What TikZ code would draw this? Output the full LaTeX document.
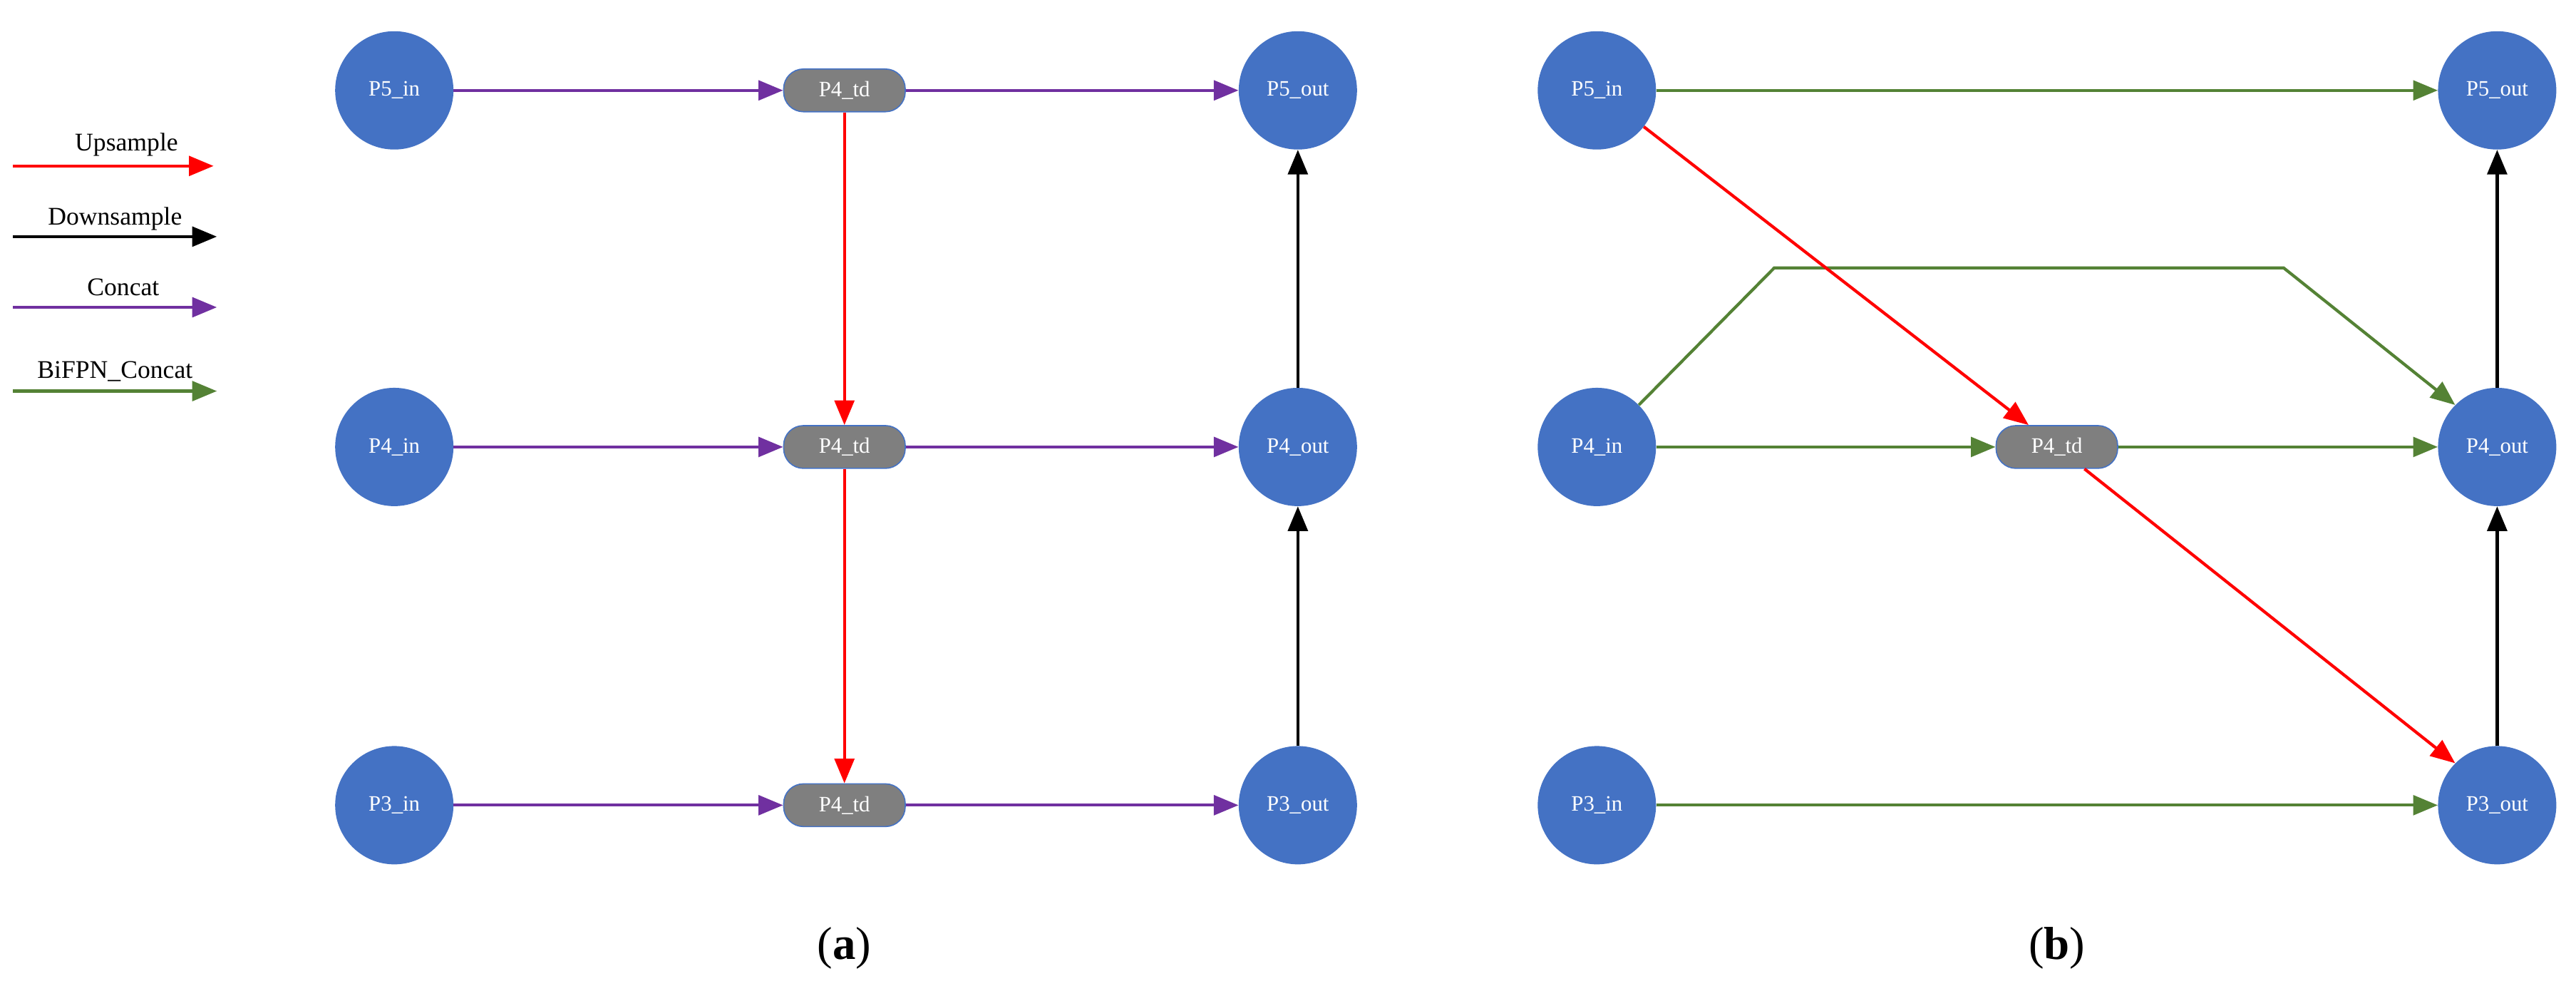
\documentclass[tikz,border=0pt]{standalone}
\usepackage{fontspec}
\setmainfont{Liberation Serif}
\usetikzlibrary{arrows.meta}
\definecolor{nodeblue}{HTML}{4472C4}
\definecolor{tdgray}{HTML}{7F7F7F}
\definecolor{cpurple}{HTML}{7030A0}
\definecolor{cgreen}{HTML}{548235}
\begin{document}
\begin{tikzpicture}[x=0.05cm,y=-0.05cm,
  io/.style={circle,fill=nodeblue,minimum size=3.6cm,inner sep=0pt,text=white,font=\fontsize{19}{22}\selectfont},
  td/.style={rounded corners=0.6cm,fill=tdgray,draw=nodeblue,line width=1pt,minimum width=3.7cm,minimum height=1.3cm,inner sep=0pt,text=white,font=\fontsize{19}{22}\selectfont},
  conn/.style={line width=2.6pt,-{Triangle[length=0.75cm,width=0.6cm]}},
  up/.style={conn,red},
  down/.style={conn,black},
  cat/.style={conn,cpurple},
  bif/.style={conn,cgreen},
  leg/.style={font=\fontsize{22}{26}\selectfont,inner sep=0pt},
  subcap/.style={font=\fontsize{40}{46}\selectfont}]
\useasboundingbox (0,0) rectangle (1568,606);
% legend
\coordinate (u1) at (8,101); \coordinate (u2) at (130,101);
\coordinate (d1) at (8,144); \coordinate (d2) at (132,144);
\coordinate (c1) at (8,187); \coordinate (c2) at (132,187);
\coordinate (b1) at (8,238); \coordinate (b2) at (132,238);
\draw[up] (u1) -- (u2);
\draw[down] (d1) -- (d2);
\draw[cat] (c1) -- (c2);
\draw[bif] (b1) -- (b2);
\node[leg] (lu) at (77,88) {Upsample};
\node[leg] (ld) at (70,133) {Downsample};
\node[leg] (lc) at (75,175) {Concat};
\node[leg] (lb) at (70,226) {BiFPN\_Concat};
% (a)
\node[io] (a5i) at (240,55) {P5\_in};
\node[io] (a4i) at (240,272) {P4\_in};
\node[io] (a3i) at (240,490) {P3\_in};
\node[td] (a5t) at (514,55) {P4\_td};
\node[td] (a4t) at (514,272) {P4\_td};
\node[td] (a3t) at (514,490) {P4\_td};
\node[io] (a5o) at (790,55) {P5\_out};
\node[io] (a4o) at (790,272) {P4\_out};
\node[io] (a3o) at (790,490) {P3\_out};
\draw[cat] (a5i) -- (a5t); \draw[cat] (a5t) -- (a5o);
\draw[cat] (a4i) -- (a4t); \draw[cat] (a4t) -- (a4o);
\draw[cat] (a3i) -- (a3t); \draw[cat] (a3t) -- (a3o);
\draw[up] (a5t) -- (a4t); \draw[up] (a4t) -- (a3t);
\draw[down] (a3o) -- (a4o); \draw[down] (a4o) -- (a5o);
\node[subcap] (ca) at (514,577) {(\textbf{a})};
% (b)
\node[io] (b5i) at (972,55) {P5\_in};
\node[io] (b4i) at (972,272) {P4\_in};
\node[io] (b3i) at (972,490) {P3\_in};
\node[td] (b4t) at (1252,272) {P4\_td};
\node[io] (b5o) at (1520,55) {P5\_out};
\node[io] (b4o) at (1520,272) {P4\_out};
\node[io] (b3o) at (1520,490) {P3\_out};
\coordinate (k1) at (1080,163); \coordinate (k2) at (1390,163);
\draw[bif] (b5i) -- (b5o);
\draw[bif] (b4i) -- (b4t); \draw[bif] (b4t) -- (b4o);
\draw[bif] (b3i) -- (b3o);
\draw[bif] (b4i.45) -- (k1) -- (k2) -- (b4o.135);
\draw[up] (b5i) -- (b4t);
\draw[up] (b4t) -- (b3o.135);
\draw[down] (b3o) -- (b4o); \draw[down] (b4o) -- (b5o);
\node[subcap] (cb) at (1252,577) {(\textbf{b})};
\end{tikzpicture}
\end{document}
